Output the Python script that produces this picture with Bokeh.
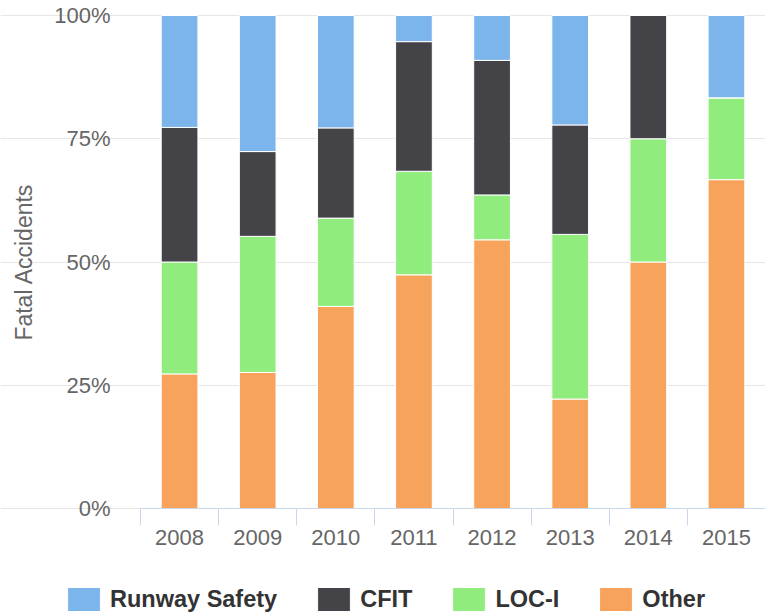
from bokeh.plotting import figure
from bokeh.models import (ColumnDataSource, FixedTicker, Legend, LegendItem,
                          PrintfTickFormatter)
from bokeh.embed import file_html
from bokeh.resources import INLINE

years = [2008, 2009, 2010, 2011, 2012, 2013, 2014, 2015]
year_labels = ["2008", "2009", "2010", "2011", "2012", "2013", "2014", "2015"]
other = [27.3, 27.6, 41.0, 47.4, 54.5, 22.2, 50.0, 66.7]
loci = [22.7, 27.6, 17.9, 21.0, 9.1, 33.4, 25.0, 16.6]
cfit = [27.3, 17.2, 18.3, 26.3, 27.3, 22.2, 25.0, 0.0]
runway = [22.7, 27.6, 22.8, 5.3, 9.1, 22.2, 0.0, 16.7]
series_names = ["Runway Safety", "CFIT", "LOC-I", "Other"]
y_ticks = [0, 25, 50, 75, 100]

colors = {"other": "#f7a35c", "loci": "#90ed7d", "cfit": "#434348", "runway": "#7cb5ec"}

src = ColumnDataSource(dict(x=years, other=other, loci=loci, cfit=cfit, runway=runway))

W, H = 765, 614
FRAME_L, FRAME_T, FRAME_B = 140, 15, 508
x0, x1 = years[0] - 0.5, years[-1] + 0.5
xs = (W - FRAME_L) / (x1 - x0)
ys = (FRAME_B - FRAME_T) / 100.0

p = figure(width=W, height=H, output_backend="svg", toolbar_location=None,
           x_range=(x0 - FRAME_L / xs, x1),
           y_range=(-(H - FRAME_B) / ys, 100 + FRAME_T / ys),
           min_border_left=0, min_border_top=0, min_border_right=0,
           min_border_bottom=0)
p.outline_line_color = None
p.background_fill_color = "white"

stack = ["other", "loci", "cfit", "runway"]
rs = p.vbar_stack(stack, x="x", width=0.47, source=src,
                  fill_color=[colors[s] for s in stack],
                  line_color="white", line_width=1)
rmap = dict(zip(stack, rs))

# axes
xa = p.xaxis[0]
xa.fixed_location = 0
xa.bounds = (x0, x1)
xa.ticker = FixedTicker(ticks=years, minor_ticks=[y - 0.5 for y in years] + [x1])
xa.major_label_overrides = {y: l for y, l in zip(years, year_labels)}
xa.major_tick_line_color = None
xa.major_tick_out = 0
xa.major_tick_in = 0
xa.minor_tick_line_color = "#ccd6eb"
xa.minor_tick_out = 17
xa.minor_tick_in = 0
xa.axis_line_color = "#ccd6eb"
xa.major_label_text_font = "Liberation Sans"
xa.major_label_text_font_size = "22px"
xa.major_label_text_color = "#666666"
xa.major_label_standoff = 4

ya = p.yaxis[0]
ya.fixed_location = x0
ya.bounds = (0, 100)
ya.ticker = FixedTicker(ticks=y_ticks)
ya.formatter = PrintfTickFormatter(format="%d%%")
ya.axis_line_color = None
ya.major_tick_line_color = None
ya.minor_tick_line_color = None
ya.major_tick_out = 0
ya.major_label_standoff = 30
ya.major_label_text_font = "Liberation Sans"
ya.major_label_text_font_size = "22px"
ya.major_label_text_color = "#666666"
ya.axis_label = "Fatal Accidents"
ya.axis_label_text_font = "Liberation Sans"
ya.axis_label_text_font_size = "23px"
ya.axis_label_text_font_style = "normal"
ya.axis_label_text_color = "#666666"
ya.axis_label_standoff = 14

p.xgrid.visible = False
p.ygrid.ticker = FixedTicker(ticks=y_ticks)
p.ygrid.bounds = (x0, x1)
p.ygrid.grid_line_color = "#e6e6e6"

legend = Legend(items=[
    LegendItem(label=series_names[0], renderers=[rmap["runway"]]),
    LegendItem(label=series_names[1], renderers=[rmap["cfit"]]),
    LegendItem(label=series_names[2], renderers=[rmap["loci"]]),
    LegendItem(label=series_names[3], renderers=[rmap["other"]]),
], orientation="horizontal", location=(63, 0))
legend.label_text_font = "Liberation Sans"
legend.label_text_font_size = "23.5px"
legend.label_text_font_style = "bold"
legend.label_text_color = "#333333"
legend.glyph_width = 41
legend.glyph_height = 30
legend.label_height = 30
legend.label_standoff = 6
legend.spacing = 36
legend.padding = 0
legend.margin = 0
legend.border_line_color = None
legend.background_fill_alpha = 0
p.add_layout(legend, "center")

open("out.html", "w").write(file_html(p, INLINE))
